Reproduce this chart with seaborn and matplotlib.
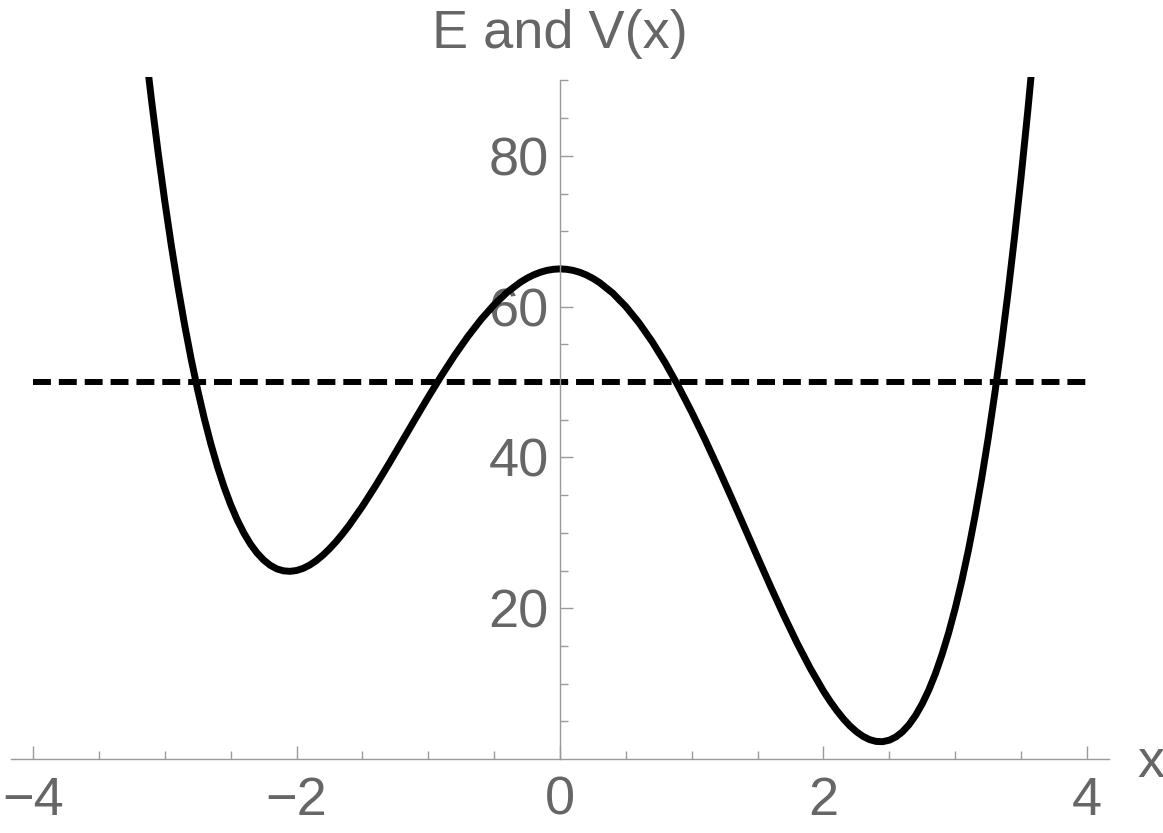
import matplotlib
matplotlib.use("Agg")
import matplotlib.pyplot as plt
import seaborn as sns

# ---- data ----
x_vals = [-3.2, -3.15, -3.1, -3.05, -3.0, -2.95, -2.9, -2.85, -2.8, -2.75, -2.7, -2.65,
          -2.6, -2.55, -2.5, -2.45, -2.4, -2.35, -2.3, -2.25, -2.2, -2.15, -2.1, -2.05,
          -2.0, -1.95, -1.9, -1.85, -1.8, -1.75, -1.7, -1.65, -1.6, -1.5,
          -1.4, -1.3, -1.2, -1.1, -1.0, -0.9, -0.8, -0.7, -0.6, -0.5, -0.4, -0.3,
          -0.25, -0.2, -0.15, -0.1, -0.05, 0.0, 0.05, 0.1, 0.15, 0.2, 0.25, 0.3,
          0.4, 0.5, 0.6, 0.7, 0.8, 0.9, 1.0, 1.1,
          1.2, 1.3, 1.4, 1.5, 1.6, 1.7, 1.8, 1.9, 2.0, 2.05, 2.1, 2.15, 2.2, 2.25,
          2.3, 2.35, 2.4, 2.45, 2.5, 2.55, 2.6, 2.65, 2.7, 2.75, 2.8, 2.85, 2.9, 2.95,
          3.0, 3.05, 3.1, 3.15, 3.2, 3.25, 3.3, 3.35, 3.4, 3.45, 3.5, 3.55, 3.6]
v_vals = [102.68, 94.72, 87.30, 80.40, 74.00, 68.09, 62.65, 57.65, 53.08, 48.93, 45.17, 41.79,
          38.77, 36.10, 33.75, 31.72, 29.98, 28.52, 27.34, 26.40, 25.70, 25.22, 24.96, 24.89,
          25.00, 25.28, 25.72, 26.31, 27.03, 27.87, 28.82, 29.87, 31.00, 33.50,
          36.23, 39.11, 42.08, 45.06, 48.00, 50.84, 53.53, 56.02, 58.28, 60.25, 61.92, 63.24,
          63.77, 64.21, 64.55, 64.80, 64.95, 65.00, 64.95, 64.80, 64.55, 64.20, 63.74, 63.19,
          61.79, 60.00, 57.84, 55.34, 52.51, 49.38, 46.00, 42.40,
          38.62, 34.72, 30.74, 26.75, 22.81, 18.99, 15.36, 12.01, 9.00, 7.66, 6.44, 5.35, 4.40, 3.62,
          3.00, 2.57, 2.33, 2.30, 2.50, 2.93, 3.62, 4.57, 5.81, 7.34, 9.18, 11.35, 13.87, 16.74,
          20.00, 23.65, 27.71, 32.21, 37.15, 42.55, 48.45, 54.84, 61.76, 69.23, 77.25, 85.86, 95.07]
energy_x = [-4.0, 4.0]
energy_y = [50.0, 50.0]

x_major = [-4, -2, 0, 2, 4]
x_minor = [-3.5, -3, -2.5, -1.5, -1, -0.5, 0.5, 1, 1.5, 2.5, 3, 3.5]
y_major = [20, 40, 60, 80]
y_minor = [5, 10, 15, 25, 30, 35, 45, 50, 55, 65, 70, 75, 85, 90]
x_ticklabels = ["\u22124", "\u22122", "0", "2", "4"]
title_text = "E and V(x)"
xlabel_text = "x"

# ---- style ----
sns.set_theme(style="white")
plt.rcParams["font.family"] = ["Liberation Sans", "DejaVu Sans"]

AXC = "#9a9a9a"
TXC = "#666666"
FS = 39

fig = plt.figure(figsize=(11.63, 8.33), dpi=100)
ax = fig.add_axes([11 / 1163, 74 / 833, 1098 / 1163, 681.6 / 833])

sns.lineplot(x=x_vals, y=v_vals, color="black", lw=5.0, sort=False,
             estimator=None, ax=ax)
sns.lineplot(x=energy_x, y=energy_y, color="black", lw=4.3, ax=ax)
ax.lines[-1].set_dashes((3.0, 1.33))
ax.lines[-1].set_dash_capstyle("butt")

ax.set_xlim(-4.167, 4.167)
ax.set_ylim(0, 90.4)

for s in ["top", "right"]:
    ax.spines[s].set_visible(False)
ax.spines["left"].set_position(("data", 0))
ax.spines["left"].set_bounds(0, 90)
ax.spines["bottom"].set_position(("data", 0))
for s in ["left", "bottom"]:
    ax.spines[s].set_color(AXC)
    ax.spines[s].set_linewidth(1.0)

ax.set_xticks(x_major)
ax.set_xticks(x_minor, minor=True)
ax.set_yticks(y_major)
ax.set_yticks(y_minor, minor=True)
ax.set_xticklabels(x_ticklabels)

ax.tick_params(axis="both", which="both", direction="in", color=AXC, width=1.0,
               labelcolor=TXC, labelsize=FS, bottom=True, left=True,
               top=False, right=False)
ax.tick_params(axis="both", which="major", length=9.4)
ax.tick_params(axis="both", which="minor", length=5.8)
ax.tick_params(axis="x", which="major", pad=12)
ax.tick_params(axis="y", which="major", pad=8)

ax.set_xlabel("")
ax.set_ylabel("")
ax.grid(False)

fig.text(560 / 1163, (833 - 48) / 833, title_text, ha="center", va="baseline",
         color=TXC, fontsize=FS)
fig.text(1137 / 1163, (833 - 777) / 833, xlabel_text, ha="left", va="baseline",
         color=TXC, fontsize=FS)

fig.savefig("out.png", dpi=100, facecolor="white")
